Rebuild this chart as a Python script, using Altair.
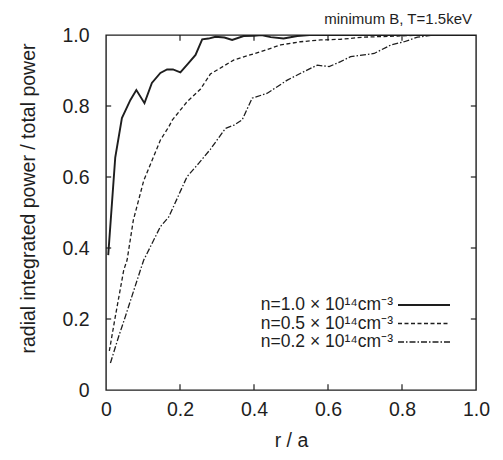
import altair as alt
import pandas as pd

# ---- data ----
r_n10 = [0.006, 0.025, 0.043, 0.066, 0.082, 0.104, 0.124, 0.147, 0.165, 0.181, 0.201,
         0.223, 0.242, 0.260, 0.277, 0.296, 0.320, 0.341, 0.372, 0.400, 0.420, 0.445,
         0.480, 0.517, 0.550, 0.600, 0.700, 0.800, 0.900, 1.000]
v_n10 = [0.380, 0.655, 0.766, 0.817, 0.845, 0.808, 0.865, 0.893, 0.903, 0.903, 0.895,
         0.921, 0.944, 0.988, 0.990, 0.995, 0.993, 0.986, 0.997, 0.998, 1.000, 0.994,
         0.990, 0.997, 1.000, 1.000, 1.000, 1.000, 1.000, 1.000]

r_n05 = [0.009, 0.025, 0.048, 0.057, 0.074, 0.102, 0.147, 0.170, 0.179, 0.219, 0.255,
         0.282, 0.346, 0.418, 0.472, 0.526, 0.580, 0.634, 0.697, 0.788, 0.860, 0.930, 1.000]
v_n05 = [0.110, 0.206, 0.338, 0.366, 0.479, 0.590, 0.704, 0.742, 0.760, 0.812, 0.847,
         0.890, 0.930, 0.953, 0.972, 0.981, 0.986, 0.988, 0.994, 0.997, 1.000, 1.000, 1.000]

r_n02 = [0.012, 0.034, 0.052, 0.093, 0.102, 0.147, 0.170, 0.219, 0.251, 0.282, 0.323,
         0.346, 0.368, 0.395, 0.436, 0.490, 0.535, 0.571, 0.603, 0.634, 0.661, 0.725,
         0.770, 0.806, 0.842, 0.878, 0.940, 1.000]
v_n02 = [0.076, 0.150, 0.206, 0.338, 0.366, 0.460, 0.488, 0.601, 0.639, 0.678, 0.737,
         0.746, 0.761, 0.822, 0.836, 0.873, 0.897, 0.915, 0.911, 0.925, 0.939, 0.948,
         0.972, 0.981, 0.994, 0.999, 1.000, 1.000]

series_names = ["n10", "n05", "n02"]
legend_labels = ["n=1.0 \u00d7 10\u00b9\u2074cm\u207b\u00b3",
                 "n=0.5 \u00d7 10\u00b9\u2074cm\u207b\u00b3",
                 "n=0.2 \u00d7 10\u00b9\u2074cm\u207b\u00b3"]
x_ticks = [0, 0.2, 0.4, 0.6, 0.8, 1.0]
y_ticks = [0, 0.2, 0.4, 0.6, 0.8, 1.0]
inner_ticks = [0.2, 0.4, 0.6, 0.8]
title_text = "minimum B, T=1.5keV"
x_title = "r / a"
y_title = "radial integrated power / total power"

FONT = "Liberation Sans"
INK = "#1e1e1e"
W, H = 370, 355

rows = []
for name, rs, vs in [("n10", r_n10, v_n10), ("n05", r_n05, v_n05), ("n02", r_n02, v_n02)]:
    for r, v in zip(rs, vs):
        rows.append({"series": name, "r": r, "v": v})
df = pd.DataFrame(rows)

label_expr = "datum.value == 0 ? '0' : format(datum.value, '.1f')"
xscale = alt.Scale(domain=[0, 1], nice=False, zero=False)
yscale = alt.Scale(domain=[0, 1], nice=False, zero=False)
x_axis = alt.Axis(values=x_ticks, labelExpr=label_expr, title=x_title, grid=False,
                  domain=False, ticks=False, labelPadding=10, labelFontSize=19.5,
                  labelFlush=False, labelOverlap=False,
                  labelFont=FONT, titleFont=FONT, titleFontSize=19.5, titleFontWeight="normal",
                  titleX=185, titleY=50, titleBaseline="middle", labelColor=INK,
                  titleColor=INK)
y_axis = alt.Axis(values=y_ticks, labelExpr=label_expr, title=y_title, grid=False,
                  domain=False, ticks=False, labelPadding=17, labelFontSize=19.5,
                  labelFlush=False, labelOverlap=False,
                  labelFont=FONT, titleFont=FONT, titleFontSize=19.5, titleFontWeight="normal",
                  titleX=-78, titleY=163, titleBaseline="middle", labelColor=INK,
                  titleColor=INK)

X = alt.X("r:Q", scale=xscale, axis=x_axis)
Y = alt.Y("v:Q", scale=yscale, axis=y_axis)

base = alt.Chart(df).encode(x=X, y=Y)
styles = {
    "n10": dict(strokeWidth=1.9),
    "n05": dict(strokeWidth=1.3, strokeDash=[4, 2.5]),
    "n02": dict(strokeWidth=1.3, strokeDash=[6, 2, 1.5, 2]),
}
line_layers = [
    base.transform_filter(alt.datum.series == s).mark_line(color=INK, clip=True, **styles[s])
    for s in series_names
]

# inward ticks on all four sides
tx = pd.DataFrame({"r": inner_ticks * 2,
                   "v": [0.0] * 4 + [1.0] * 4,
                   "v2": [0.016] * 4 + [0.984] * 4})
ty = pd.DataFrame({"v": inner_ticks * 2,
                   "r": [0.0] * 4 + [1.0] * 4,
                   "r2": [0.014] * 4 + [0.986] * 4})
tick_x = alt.Chart(tx).mark_rule(color=INK, strokeWidth=1.2).encode(x=X, y=Y, y2="v2:Q")
tick_y = alt.Chart(ty).mark_rule(color=INK, strokeWidth=1.2).encode(x=X, x2="r2:Q", y=Y)

# legend (drawn by hand, labels left of samples)
leg_y = [270, 288.5, 307]
leg_layers = []
for i, lab in enumerate(legend_labels):
    s = series_names[i]
    d = pd.DataFrame({"label": [lab]})
    leg_layers.append(
        alt.Chart(d).mark_text(align="right", baseline="middle", font=FONT, fontSize=17.5,
                               color=INK)
        .encode(text="label:N", x=alt.value(287), y=alt.value(leg_y[i]))
    )
    leg_layers.append(
        alt.Chart(d).mark_rule(color=INK, **styles[s])
        .encode(x=alt.value(292), x2=alt.value(344), y=alt.value(leg_y[i]))
    )

title_layer = alt.Chart(pd.DataFrame({"t": [title_text]})).mark_text(
    align="right", baseline="middle", font=FONT, fontSize=15, color=INK
).encode(text="t:N", x=alt.value(366), y=alt.value(-16))

chart = alt.layer(*line_layers, tick_x, tick_y, *leg_layers, title_layer).properties(
    width=W, height=H,
    autosize=alt.AutoSizeParams(type="none"),
    padding={"left": 98, "top": 27, "right": 17, "bottom": 62},
    background="white",
).configure_view(stroke=INK, strokeWidth=1.4)

chart.save("out.html", embed_options={"renderer": "svg", "actions": False})
